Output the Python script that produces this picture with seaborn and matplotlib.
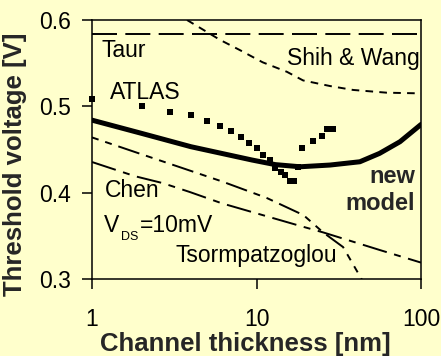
import matplotlib
matplotlib.use("Agg")
import matplotlib.pyplot as plt
import seaborn as sns
from matplotlib.ticker import NullLocator

# Channel thickness [nm] / threshold voltage [V]
model_x = [1, 2, 4, 9.4, 13, 18.4, 28, 42.5, 56, 74.5, 100]
model_y = [0.484, 0.4687, 0.4532, 0.4378, 0.4325, 0.430, 0.432, 0.4358, 0.4455, 0.459, 0.479]

atlas_x = [1, 2, 3, 4, 5, 6, 7, 8, 9, 10, 11, 12, 13, 14, 15, 16, 17, 18, 19, 22, 25, 27, 29]
atlas_y = [0.508, 0.500, 0.494, 0.490, 0.4835, 0.4775, 0.472, 0.464, 0.4575, 0.4513, 0.4436,
           0.438, 0.429, 0.4242, 0.4204, 0.414, 0.414, 0.430, 0.4513, 0.460, 0.4656, 0.4737, 0.4737]

taur_x = [1, 100]
taur_y = [0.584, 0.584]

shih_x = [3.78, 6.0, 7.95, 10.9, 15.3, 19.2, 28.0, 38.6, 61.9, 100]
shih_y = [0.600, 0.577, 0.565, 0.551, 0.540, 0.530, 0.5235, 0.519, 0.5158, 0.515]

tsorm_x = [1, 1.83, 6.17, 11.5, 19.3, 25.4, 33.6, 43.8]
tsorm_y = [0.464, 0.447, 0.413, 0.394, 0.374, 0.354, 0.337, 0.299]

chen_x = [1, 1.83, 2.70, 3.94, 6.17, 19.2, 25.4, 56.3, 100]
chen_y = [0.4355, 0.419, 0.411, 0.4007, 0.3876, 0.3605, 0.354, 0.3335, 0.319]

x_ticks = [1, 10, 100]
x_tick_labels = ["1", "10", "100"]
y_ticks = [0.3, 0.4, 0.5, 0.6]
y_tick_labels = ["0.3", "0.4", "0.5", "0.6"]

BG = "#FFFFCC"

sns.set_style("ticks")
plt.rcParams["font.family"] = ["Liberation Sans", "DejaVu Sans"]
plt.rcParams["lines.scale_dashes"] = False

fig = plt.figure(figsize=(4.41, 3.56), dpi=100, facecolor=BG)
ax = fig.add_axes([92 / 441, 77 / 356, 329 / 441, 259 / 356])
ax.set_facecolor(BG)

# Model curves
thin = 1.4
sns.lineplot(x=taur_x, y=taur_y, ax=ax, color="k", linewidth=thin,
             linestyle=(0, (18, 6)), errorbar=None, sort=False)
sns.lineplot(x=shih_x, y=shih_y, ax=ax, color="k", linewidth=thin,
             linestyle=(0, (5.5, 4.5)), errorbar=None, sort=False)
sns.lineplot(x=tsorm_x, y=tsorm_y, ax=ax, color="k", linewidth=thin,
             linestyle=(0, (5, 5, 5, 5, 16, 5)), errorbar=None, sort=False)
sns.lineplot(x=chen_x, y=chen_y, ax=ax, color="k", linewidth=thin,
             linestyle=(0, (18, 5.5, 5, 5.5)), errorbar=None, sort=False)
sns.lineplot(x=model_x, y=model_y, ax=ax, color="k", linewidth=3.6,
             errorbar=None, sort=False)

# ATLAS simulation points
sns.scatterplot(x=atlas_x, y=atlas_y, ax=ax, marker="s", s=25, color="k",
                linewidth=0, clip_on=False, zorder=5)

ax.set_xscale("log")
ax.set_xlim(1, 100)
ax.set_ylim(0.3, 0.6)
ax.set_xticks(x_ticks)
ax.set_xticklabels(x_tick_labels)
ax.xaxis.set_minor_locator(NullLocator())
ax.set_yticks(y_ticks)
ax.set_yticklabels(y_tick_labels)

for side in ["top", "right", "bottom", "left"]:
    ax.spines[side].set_visible(True)
    ax.spines[side].set_linewidth(1.1)
    ax.spines[side].set_color("k")
ax.tick_params(axis="both", which="major", direction="out", length=7, width=1.1,
               labelsize=16.5, colors="k")
ax.tick_params(axis="x", pad=14)
ax.tick_params(axis="y", pad=8)

ax.set_xlabel("Channel thickness [nm]", fontsize=18.5, fontweight="bold")
ax.set_ylabel("Threshold voltage [V]", fontsize=18.5, fontweight="bold")
ax.xaxis.set_label_coords(0.465, -0.205)
ax.yaxis.set_label_coords(-0.198, 0.442)

# Curve labels
txt = dict(fontsize=16.5, color="k")
ax.text(1.15, 0.557, "Taur", **txt)
ax.text(98, 0.548, "Shih & Wang", ha="right", **txt)
ax.text(1.29, 0.508, "ATLAS", **txt)
ax.text(1.2, 0.395, "Chen", **txt)
ax.text(1.18, 0.354, "V", **txt)
ax.text(1.5, 0.345, "DS", fontsize=9, color="k")
ax.text(1.96, 0.354, "=10mV", **txt)
ax.text(3.24, 0.3196, "Tsormpatzoglou", **txt)
ax.text(91.9, 0.411, "new", ha="right", fontsize=17, fontweight="bold")
ax.text(91.9, 0.380, "model", ha="right", fontsize=17, fontweight="bold")

fig.savefig("out.png", dpi=100, facecolor=BG)
